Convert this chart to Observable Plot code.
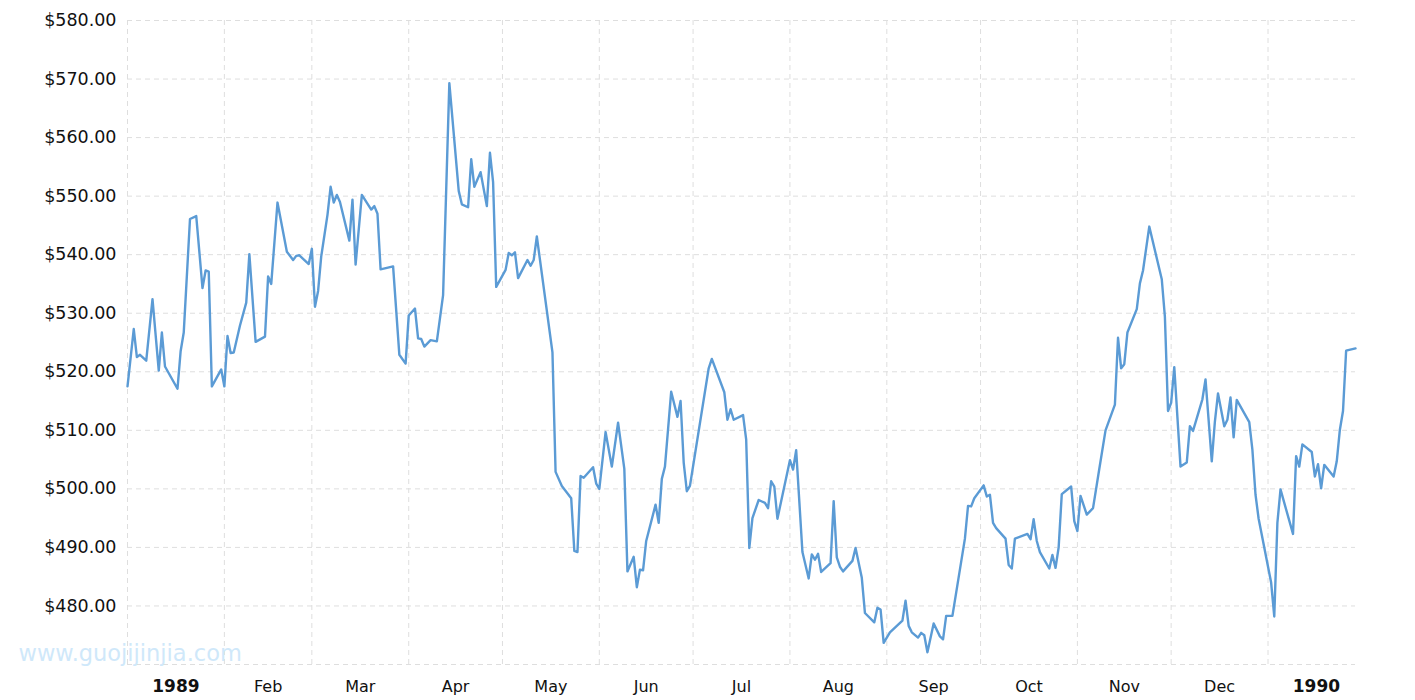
<!DOCTYPE html>
<html>
<head>
<meta charset="utf-8">
<script src="https://cdn.jsdelivr.net/npm/d3@7"></script>
<script src="https://cdn.jsdelivr.net/npm/@observablehq/plot@0.6"></script>
<style>
  html, body { margin: 0; padding: 0; background: #fff; overflow: hidden; }
  svg { display: block; }
</style>
</head>
<body>
<div id="chart"></div>
<script>
// Gold price (USD/oz), daily, 1989 – Jan 1990
const dates = [
  "1989-01-01","1989-01-03","1989-01-04","1989-01-05","1989-01-07","1989-01-09","1989-01-11","1989-01-12","1989-01-13","1989-01-17",
  "1989-01-18","1989-01-19","1989-01-21","1989-01-23","1989-01-25","1989-01-26","1989-01-27","1989-01-28","1989-01-31","1989-02-01",
  "1989-02-02","1989-02-03","1989-02-04","1989-02-06","1989-02-08","1989-02-09","1989-02-11","1989-02-14","1989-02-15","1989-02-16",
  "1989-02-18","1989-02-21","1989-02-23","1989-02-24","1989-02-25","1989-02-28","1989-03-01","1989-03-02","1989-03-03","1989-03-04",
  "1989-03-06","1989-03-07","1989-03-08","1989-03-09","1989-03-10","1989-03-13","1989-03-14","1989-03-15","1989-03-17","1989-03-20",
  "1989-03-21","1989-03-22","1989-03-23","1989-03-27","1989-03-29","1989-03-31","1989-04-01","1989-04-03","1989-04-04","1989-04-05",
  "1989-04-06","1989-04-08","1989-04-10","1989-04-12","1989-04-14","1989-04-17","1989-04-18","1989-04-20","1989-04-21","1989-04-22",
  "1989-04-24","1989-04-26","1989-04-27","1989-04-28","1989-04-29","1989-05-02","1989-05-03","1989-05-04","1989-05-05","1989-05-06",
  "1989-05-09","1989-05-10","1989-05-11","1989-05-12","1989-05-17","1989-05-18","1989-05-20","1989-05-23","1989-05-24","1989-05-25",
  "1989-05-26","1989-05-27","1989-05-30","1989-05-31","1989-06-01","1989-06-03","1989-06-05","1989-06-07","1989-06-09","1989-06-10",
  "1989-06-12","1989-06-13","1989-06-14","1989-06-15","1989-06-16","1989-06-19","1989-06-20","1989-06-21","1989-06-22","1989-06-24",
  "1989-06-26","1989-06-27","1989-06-28","1989-06-29","1989-06-30","1989-07-06","1989-07-07","1989-07-11","1989-07-12","1989-07-13",
  "1989-07-14","1989-07-17","1989-07-18","1989-07-19","1989-07-20","1989-07-22","1989-07-24","1989-07-25","1989-07-26","1989-07-27",
  "1989-07-28","1989-08-01","1989-08-02","1989-08-03","1989-08-05","1989-08-07","1989-08-08","1989-08-09","1989-08-10","1989-08-11",
  "1989-08-14","1989-08-15","1989-08-16","1989-08-17","1989-08-18","1989-08-21","1989-08-22","1989-08-24","1989-08-25","1989-08-28",
  "1989-08-29","1989-08-30","1989-08-31","1989-09-02","1989-09-06","1989-09-07","1989-09-08","1989-09-09","1989-09-11","1989-09-12",
  "1989-09-13","1989-09-14","1989-09-16","1989-09-18","1989-09-19","1989-09-20","1989-09-22","1989-09-26","1989-09-27","1989-09-28",
  "1989-09-29","1989-10-02","1989-10-03","1989-10-04","1989-10-05","1989-10-06","1989-10-09","1989-10-10","1989-10-11","1989-10-12",
  "1989-10-16","1989-10-17","1989-10-18","1989-10-19","1989-10-20","1989-10-23","1989-10-24","1989-10-25","1989-10-26","1989-10-27",
  "1989-10-30","1989-10-31","1989-11-01","1989-11-02","1989-11-04","1989-11-06","1989-11-08","1989-11-10","1989-11-13","1989-11-14",
  "1989-11-15","1989-11-16","1989-11-17","1989-11-20","1989-11-21","1989-11-22","1989-11-24","1989-11-28","1989-11-29","1989-11-30",
  "1989-12-01","1989-12-02","1989-12-04","1989-12-06","1989-12-07","1989-12-08","1989-12-11","1989-12-12","1989-12-14","1989-12-15",
  "1989-12-16","1989-12-18","1989-12-19","1989-12-20","1989-12-21","1989-12-22","1989-12-26","1989-12-27","1989-12-28","1989-12-29",
  "1990-01-02","1990-01-03","1990-01-04","1990-01-05","1990-01-09","1990-01-10","1990-01-11","1990-01-12","1990-01-15","1990-01-16",
  "1990-01-17","1990-01-18","1990-01-19","1990-01-22","1990-01-23","1990-01-24","1990-01-25","1990-01-26","1990-01-29"
];
const prices = [
  517.5,527.3,522.5,522.9,521.9,532.4,520.2,526.7,520.9,517.1,
  523.5,526.7,546.1,546.6,534.3,537.3,537.1,517.5,520.4,517.5,
  526.1,523.2,523.3,527.9,531.8,540.1,525.1,526.0,536.3,535.0,
  548.9,540.5,539.1,539.8,539.9,538.4,541.0,531.1,533.8,539.7,
  546.8,551.6,548.9,550.2,549.0,542.4,549.4,538.3,550.2,547.7,
  548.3,547.0,537.5,538.0,522.9,521.4,529.6,530.8,525.7,525.6,
  524.3,525.4,525.2,533.1,569.3,550.9,548.6,548.1,556.3,551.6,
  554.1,548.3,557.4,552.4,534.5,537.4,540.3,539.9,540.4,536.0,
  539.1,538.1,539.1,543.1,523.3,502.9,500.5,498.4,489.4,489.2,
  502.2,501.9,503.7,500.9,500.0,509.7,503.8,511.3,503.4,485.9,
  488.4,483.2,486.2,486.1,491.1,497.3,494.2,501.7,503.8,516.6,
  512.3,515.0,504.5,499.6,500.5,520.6,522.2,516.5,511.8,513.6,
  511.8,512.6,508.4,489.9,495.0,498.1,497.6,496.7,501.3,500.4,
  494.9,504.9,503.3,506.6,489.2,484.7,488.8,487.9,488.9,485.8,
  487.3,497.9,488.3,486.7,485.9,487.7,489.9,484.8,478.8,477.2,
  479.7,479.4,473.7,475.5,477.5,480.9,476.6,475.5,474.6,475.4,
  475.0,472.1,477.0,474.8,474.3,478.3,478.3,491.5,497.1,497.0,
  498.4,500.6,498.7,499.0,494.2,493.3,491.5,487.0,486.4,491.5,
  492.3,491.4,494.8,491.1,489.2,486.4,488.7,486.5,490.0,499.1,
  500.4,494.5,492.8,498.8,495.6,496.7,503.4,510.0,514.4,525.8,
  520.6,521.3,526.7,530.7,535.1,537.3,544.8,535.8,529.4,513.3,
  514.7,520.8,503.8,504.5,510.7,509.9,515.3,518.7,504.7,511.5,
  516.3,510.7,511.8,515.6,508.8,515.2,511.4,506.7,499.0,494.9,
  484.0,478.2,494.2,499.9,492.3,505.6,503.8,507.6,506.3,502.1,
  504.2,500.1,504.1,502.1,504.7,510.1,513.3,523.6,524.0
];

const xStart = "1989-01-01";
const xEnd = "1990-01-29";
const yTicks = [480, 490, 500, 510, 520, 530, 540, 550, 560, 570, 580];
const yGrid = [470, 480, 490, 500, 510, 520, 530, 540, 550, 560, 570, 580];
const monthLabels = ["1989","Feb","Mar","Apr","May","Jun","Jul","Aug","Sep","Oct","Nov","Dec","1990"];
const boldLabels = ["1989", "1990"];
const watermark = "www.guojijinjia.com";

const data = dates.map((d, i) => ({date: new Date(d), price: prices[i]}));
const monthStarts = d3.utcMonth.range(new Date("1989-01-01"), new Date("1990-01-02"));
const labelRows = monthStarts.map((m, i) => {
  const next = d3.utcMonth.offset(m, 1);
  return {date: new Date((+m + +next) / 2), label: monthLabels[i]};
});
const normalRows = labelRows.filter(r => !boldLabels.includes(r.label));
const boldRows = labelRows.filter(r => boldLabels.includes(r.label));

const gridStyle = {stroke: "#dedede", strokeWidth: 1, strokeDasharray: "5,4"};

const chart = Plot.plot({
  width: 1415,
  height: 700,
  marginLeft: 127,
  marginRight: 60,
  marginTop: 20,
  marginBottom: 36,
  style: {fontFamily: "'DejaVu Sans', Verdana, sans-serif", fontSize: "17.5px", color: "#111", background: "#fff"},
  x: {type: "utc", domain: [new Date(xStart), new Date(xEnd)], axis: null},
  y: {domain: [470, 580], ticks: yTicks, tickSize: 0, tickPadding: 11, tickFormat: d => "$" + d.toFixed(2), label: null},
  marks: [
    Plot.ruleY(yGrid, gridStyle),
    Plot.ruleX(monthStarts, gridStyle),
    Plot.text([watermark], {text: d => d, frameAnchor: "bottom-left", textAnchor: "start", dx: -109, dy: -4, fill: "#cfe8fa", fontSize: 22.5}),
    Plot.text(normalRows, {x: "date", text: "label", frameAnchor: "bottom", dy: 27, fontSize: 16, fill: "#111"}),
    Plot.text(boldRows, {x: "date", text: "label", frameAnchor: "bottom", dy: 27, fontSize: 17, fontWeight: "bold", fill: "#111"}),
    Plot.line(data, {x: "date", y: "price", stroke: "#5b9bd5", strokeWidth: 2.4, strokeLinejoin: "round"})
  ]
});
document.getElementById("chart").append(chart);
</script>
</body>
</html>
